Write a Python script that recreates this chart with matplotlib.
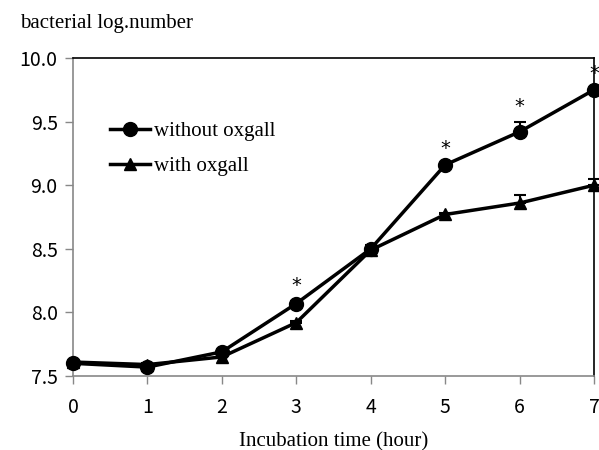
import matplotlib
matplotlib.use("Agg")
import matplotlib.pyplot as plt
from matplotlib.lines import Line2D

# incubation time (hour)
hours = [0, 1, 2, 3, 4, 5, 6, 7]
# bacterial log number
without_oxgall = [7.60, 7.57, 7.69, 8.07, 8.50, 9.16, 9.42, 9.75]
with_oxgall = [7.61, 7.59, 7.65, 7.92, 8.49, 8.77, 8.86, 9.00]
# upper error bars
without_err = [0.01, 0.01, 0.01, 0.02, 0.03, 0.01, 0.08, 0.01]
with_err = [0.01, 0.01, 0.01, 0.01, 0.02, 0.01, 0.06, 0.05]
# points marked as significant
star_hours = [3, 5, 6, 7]

serif = "Liberation Serif"
sans = ["Noto Sans CJK KR", "DejaVu Sans"]

fig = plt.figure(figsize=(5.99, 4.5), dpi=100)
ax = fig.add_axes([0.1219, 0.1644, 0.8698, 0.7067])

ax.errorbar(hours, without_oxgall, yerr=[[0] * len(hours), without_err],
            color="black", lw=2.5, marker="o", ms=10, capsize=4, capthick=1.5,
            elinewidth=1.5, clip_on=False, zorder=3)
ax.errorbar(hours, with_oxgall, yerr=[[0] * len(hours), with_err],
            color="black", lw=2.5, marker="^", ms=9, capsize=4, capthick=1.5,
            elinewidth=1.5, clip_on=False, zorder=3)

for h in star_hours:
    y = without_oxgall[h] + without_err[h]
    ax.annotate("*", (h, y), xytext=(0, 4), textcoords="offset points",
                ha="center", va="bottom", fontsize=14, family="DejaVu Sans",
                annotation_clip=False)

ax.set_xlim(0, 7)
ax.set_ylim(7.5, 10.0)
ax.set_xticks(hours)
ax.set_yticks([7.5, 8.0, 8.5, 9.0, 9.5, 10.0])
ax.set_yticklabels(["7.5", "8.0", "8.5", "9.0", "9.5", "10.0"])
for lab in ax.get_xticklabels() + ax.get_yticklabels():
    lab.set_family(sans)
    lab.set_fontsize(14)
ax.tick_params(axis="both", direction="out", length=6, color="#888888", width=1)
ax.tick_params(axis="x", pad=9)
ax.tick_params(axis="y", pad=5)

for side in ["left", "bottom"]:
    ax.spines[side].set_color("#888888")
for side in ["top", "right"]:
    ax.spines[side].set_color("black")
for s in ax.spines.values():
    s.set_linewidth(1.2)

ax.set_xlabel("Incubation time (hour)", family=serif, fontsize=15, labelpad=10)
fig.text(0.033, 0.947, "bacterial log.number", family=serif, fontsize=15,
         ha="left", va="center")

handles = [
    Line2D([], [], color="black", lw=2.5, marker="o", ms=10),
    Line2D([], [], color="black", lw=2.5, marker="^", ms=9),
]
ax.legend(handles, ["without oxgall", "with oxgall"], loc="upper left",
          bbox_to_anchor=(0.035, 0.86), frameon=False,
          prop={"family": serif, "size": 15}, handlelength=1.9,
          handletextpad=0.2, labelspacing=0.75)

fig.savefig("out.png", dpi=100)
